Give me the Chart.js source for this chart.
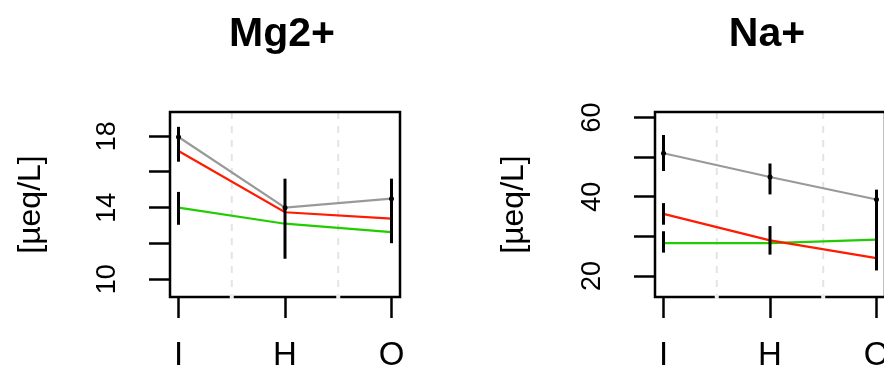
<!DOCTYPE html>
<html>
<head>
<meta charset="utf-8">
<script src="https://cdn.jsdelivr.net/npm/chart.js@4.4.0/dist/chart.umd.min.js"></script>
<style>
  html, body { margin: 0; padding: 0; background: #fff; overflow: hidden; }
  #wrap { position: relative; width: 884px; height: 372px; overflow: hidden; }
  canvas { position: absolute; top: 0; }
  #mg { left: 0; }
  #na { left: 442px; }
</style>
</head>
<body>
<div id="wrap">
  <canvas id="mg" width="442" height="372"></canvas>
  <canvas id="na" width="452" height="372"></canvas>
</div>
<script>
const categories = ['I', 'H', 'O'];

// Mg2+
const mgGray = [17.95, 14.0, 14.5];
const mgRed = [17.17, 13.74, 13.38];
const mgGreen = [14.0, 13.1, 12.63];
const mgErrAt = [0, 0, 1, 2];
const mgErrLow = [16.57, 13.04, 11.14, 12.01];
const mgErrHigh = [18.52, 14.88, 15.62, 15.62];
const mgTicks = [10, 12, 14, 16, 18];
const mgTickLabels = [10, 14, 18];

// Na+
const naGray = [51.0, 45.0, 39.3];
const naRed = [35.7, 29.0, 24.5];
const naGreen = [28.3, 28.3, 29.2];
const naErrAt = [0, 0, 0, 1, 1, 2];
const naErrLow = [46.5, 32.95, 25.9, 40.6, 25.4, 21.4];
const naErrHigh = [55.6, 38.4, 31.3, 48.4, 32.6, 41.8];
const naTicks = [20, 30, 40, 50, 60];
const naTickLabels = [20, 40, 60];

const FONT = '"Liberation Sans", Arial, sans-serif';
Chart.defaults.font.family = FONT;
Chart.defaults.color = '#000';

const panelDecor = {
    id: 'panelDecor',
    beforeDatasetsDraw(chart) {
        const { ctx, chartArea: a, scales: { x } } = chart;
        ctx.save();
        ctx.strokeStyle = '#e4e4e4';
        ctx.lineWidth = 2;
        ctx.setLineDash([7, 7]);
        for (let i = 1; i < categories.length; i++) {
            const px = x.getPixelForValue(i + 0.5);
            ctx.beginPath();
            ctx.moveTo(px, a.top);
            ctx.lineTo(px, a.bottom);
            ctx.stroke();
        }
        ctx.restore();
    },
    afterDraw(chart, args, opts) {
        const { ctx, chartArea: a, scales: { x } } = chart;
        ctx.save();
        ctx.strokeStyle = '#000';
        ctx.lineWidth = 2.5;
        ctx.strokeRect(a.left, a.top, a.right - a.left, a.bottom - a.top);

        // the grid lines cut through the lower frame line
        ctx.strokeStyle = '#eeeeee';
        ctx.lineWidth = 4;
        for (let i = 1; i < categories.length; i++) {
            const px = x.getPixelForValue(i + 0.5);
            ctx.beginPath();
            ctx.moveTo(px, a.bottom - 2);
            ctx.lineTo(px, a.bottom + 2);
            ctx.stroke();
        }

        ctx.fillStyle = '#000';
        ctx.font = 'bold 41px ' + FONT;
        ctx.textAlign = 'center';
        ctx.textBaseline = 'alphabetic';
        ctx.fillText(opts.text, (a.left + a.right) / 2 - 3, a.top - 66);
        ctx.restore();
    }
};

function seriesData(values) {
    return values.map((v, i) => ({ x: i + 1, y: v }));
}

function errorBars(at, low, high) {
    return at.map((c, i) => ({
        data: [{ x: c + 1, y: low[i] }, { x: c + 1, y: high[i] }],
        borderColor: '#000',
        borderWidth: 3,
        pointRadius: 0,
        order: 0
    }));
}

function makePanel(id, p) {
    const tickGrid = {
        drawOnChartArea: false,
        drawTicks: true,
        tickLength: 21,
        tickWidth: 2.5,
        tickColor: '#000'
    };
    return new Chart(document.getElementById(id), {
        type: 'line',
        data: {
            datasets: [
                { data: seriesData(p.gray), borderColor: '#999999', borderWidth: 2.2, pointRadius: 2.5,
                  pointBackgroundColor: '#000', pointBorderWidth: 0, order: 1 },
                { data: seriesData(p.red), borderColor: '#ff1a00', borderWidth: 2.2, pointRadius: 0, order: 1 },
                { data: seriesData(p.green), borderColor: '#22cc00', borderWidth: 2.2, pointRadius: 0, order: 1 },
                ...errorBars(p.errAt, p.errLow, p.errHigh)
            ]
        },
        options: {
            responsive: false,
            animation: false,
            events: [],
            layout: { padding: { left: p.padLeft, right: p.padRight, top: 112, bottom: 0 } },
            plugins: {
                legend: { display: false },
                tooltip: { enabled: false },
                panelDecor: { text: p.title }
            },
            scales: {
                x: {
                    type: 'linear',
                    min: 0.92,
                    max: 3.08,
                    afterBuildTicks: s => { s.ticks = categories.map((c, i) => ({ value: i + 1 })); },
                    afterFit: s => { s.height = 75; s.paddingLeft = 0; s.paddingRight = 0; },
                    border: { display: false },
                    grid: tickGrid,
                    ticks: {
                        padding: 18,
                        autoSkip: false,
                        maxRotation: 0,
                        font: { size: 33 },
                        callback: v => categories[v - 1] || ''
                    }
                },
                y: {
                    min: p.yMin,
                    max: p.yMax,
                    afterBuildTicks: s => { s.ticks = p.ticks.map(v => ({ value: v })); },
                    afterFit: s => { s.width = p.yWidth; s.paddingTop = 0; s.paddingBottom = 0; },
                    border: { display: false },
                    grid: tickGrid,
                    ticks: {
                        padding: 26,
                        autoSkip: false,
                        crossAlign: 'center',
                        minRotation: 90,
                        maxRotation: 90,
                        font: { size: 27 },
                        callback: v => p.tickLabels.includes(v) ? String(v) : ''
                    },
                    title: { display: true, text: '[µeq/L]', padding: 0, font: { size: 32 } }
                }
            }
        },
        plugins: [panelDecor]
    });
}

makePanel('mg', {
    title: 'Mg2+', gray: mgGray, red: mgRed, green: mgGreen,
    errAt: mgErrAt, errLow: mgErrLow, errHigh: mgErrHigh,
    ticks: mgTicks, tickLabels: mgTickLabels, yMin: 9.0, yMax: 19.35,
    padLeft: 12, padRight: 42, yWidth: 158
});

makePanel('na', {
    title: 'Na+', gray: naGray, red: naRed, green: naGreen,
    errAt: naErrAt, errLow: naErrLow, errHigh: naErrHigh,
    ticks: naTicks, tickLabels: naTickLabels, yMin: 14.7, yMax: 61.4,
    padLeft: 53, padRight: 9, yWidth: 160
});
</script>
</body>
</html>
